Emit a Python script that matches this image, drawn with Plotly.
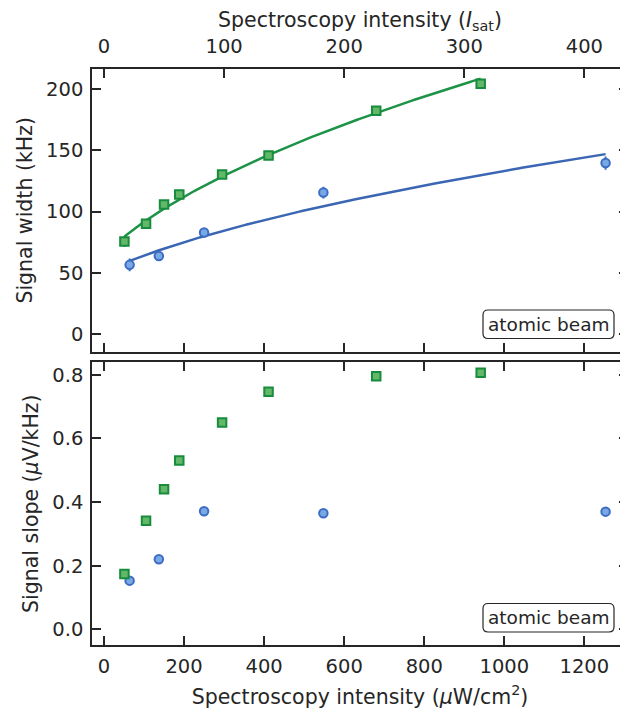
import numpy as np
import plotly.graph_objects as go

# ---------------- data ----------------
ISAT = 3.0  # µW/cm^2 corresponding to 1 I_sat

green_intensity = [51, 105, 150, 188, 295, 411, 680, 941]
green_width = [75.5, 90.0, 105.8, 114.0, 130.4, 145.9, 182.5, 204.6]
green_width_err = [4.4, 2.0, 2.0, 2.0, 2.0, 2.0, 2.0, 2.0]
green_slope = [0.174, 0.341, 0.440, 0.531, 0.650, 0.747, 0.796, 0.807]

blue_intensity = [64, 137, 250, 548, 1253]
blue_width = [56.5, 63.8, 82.9, 115.6, 139.7]
blue_width_err = [5.2, 3.0, 2.5, 4.8, 5.4]
blue_slope = [0.153, 0.220, 0.371, 0.365, 0.370]

# power-broadening fit: width = sqrt(a + b * I)
green_fit = (4230.0, 41.8)
blue_fit = (2593.0, 15.18)

x_ticks = [0, 200, 400, 600, 800, 1000, 1200]
isat_ticks = [0, 100, 200, 300, 400]
width_ticks = [0, 50, 100, 150, 200]
slope_ticks = [0.0, 0.2, 0.4, 0.6, 0.8]
slope_ticklabels = ["0.0", "0.2", "0.4", "0.6", "0.8"]

# ---------------- style ----------------
OFF = 8  # page body margin offset
W, H = 628 - OFF, 709 - OFF
L, R, T, B = 92 - OFF, 0, 69 - OFF, 64
PW, PH = W - L - R, H - T - B
FONT = "DejaVu Sans"
TXT = "#262626"
AX = "#262626"
G_LINE, G_EDGE, G_FILL = "#1c9347", "#178c3c", "#62b868"
B_LINE, B_EDGE, B_FILL = "#3b66b4", "#3c6cc3", "#79a9e4"
TITLE_SIZE = 20.5
MS = 8.5

x_range = [-30, 1309]
w_range = [-14.5, 216.6]
s_range = [-0.0494, 0.8396]
top_dom = [(645 - 351.7) / PH, 1.0]
bot_dom = [0.0, (645 - 362.3) / PH]


def fit_curve(xs, p):
    xx = np.linspace(min(xs), max(xs), 200)
    return xx, np.sqrt(p[0] + p[1] * xx)


fig = go.Figure()

gx, gy = fit_curve(green_intensity, green_fit)
bx, by = fit_curve(blue_intensity, blue_fit)
fig.add_trace(go.Scatter(x=bx, y=by, mode="lines", line=dict(color=B_LINE, width=2.5),
                         xaxis="x", yaxis="y", hoverinfo="skip"))
fig.add_trace(go.Scatter(x=gx, y=gy, mode="lines", line=dict(color=G_LINE, width=2.5),
                         xaxis="x", yaxis="y", hoverinfo="skip"))

# top panel points
fig.add_trace(go.Scatter(
    x=blue_intensity, y=blue_width, mode="markers", xaxis="x", yaxis="y",
    error_y=dict(type="data", array=blue_width_err, color=B_EDGE, thickness=2, width=0),
    marker=dict(symbol="circle", size=MS, color=B_FILL, line=dict(color=B_EDGE, width=2))))
fig.add_trace(go.Scatter(
    x=green_intensity, y=green_width, mode="markers", xaxis="x", yaxis="y",
    error_y=dict(type="data", array=green_width_err, color=G_EDGE, thickness=2, width=0),
    marker=dict(symbol="square", size=MS, color=G_FILL, line=dict(color=G_EDGE, width=2))))

# bottom panel points
fig.add_trace(go.Scatter(
    x=blue_intensity, y=blue_slope, mode="markers", xaxis="x2", yaxis="y2",
    marker=dict(symbol="circle", size=MS, color=B_FILL, line=dict(color=B_EDGE, width=2))))
fig.add_trace(go.Scatter(
    x=green_intensity, y=green_slope, mode="markers", xaxis="x2", yaxis="y2",
    marker=dict(symbol="square", size=MS, color=G_FILL, line=dict(color=G_EDGE, width=2))))

# invisible trace to anchor the top I_sat axis
fig.add_trace(go.Scatter(
    x=[v / ISAT for v in green_intensity], y=green_width, mode="markers",
    xaxis="x3", yaxis="y", marker=dict(opacity=0), hoverinfo="skip"))

axis_common = dict(
    showline=True, linecolor=AX, linewidth=1.5, ticks="inside", ticklen=9,
    tickwidth=1.5, tickcolor=AX, showgrid=False, zeroline=False, automargin=False,
    tickfont=dict(family=FONT, size=19.5, color=TXT),
)
title_font = dict(family=FONT, size=TITLE_SIZE, color=TXT)

fig.update_layout(
    width=W, height=H, margin=dict(l=L, r=R, t=T, b=B),
    paper_bgcolor="white", plot_bgcolor="white", showlegend=False,
    font=dict(family=FONT, color=TXT),
    xaxis=dict(**axis_common, range=x_range, tickvals=x_ticks, showticklabels=False,
               anchor="y", domain=[0, 1]),
    xaxis2=dict(**axis_common, range=x_range, tickvals=x_ticks, anchor="y2",
                mirror="ticks", domain=[0, 1], ticklabelstandoff=3,
                title=dict(text="Spectroscopy intensity (<i>μ</i>W/cm<sup>2</sup>)",
                           font=title_font, standoff=12)),
    xaxis3=dict(**axis_common, range=[v / ISAT for v in x_range], tickvals=isat_ticks,
                overlaying="x", side="top", anchor="y", ticklabelstandoff=6,
                title=dict(text="Spectroscopy intensity (<i>I</i><sub>sat</sub>)",
                           font=title_font, standoff=6)),
    yaxis=dict(**axis_common, range=w_range, tickvals=width_ticks, domain=top_dom,
               anchor="x", mirror="ticks", ticklabelstandoff=3,
               title=dict(text="Signal width (kHz)", font=title_font, standoff=8)),
    yaxis2=dict(**axis_common, range=s_range, tickvals=slope_ticks,
                ticktext=slope_ticklabels, domain=bot_dom, anchor="x2", mirror="ticks",
                ticklabelstandoff=3,
                title=dict(text="Signal slope (<i>μ</i>V/kHz)", font=title_font, standoff=8)),
)


def px2paper(px, py):
    # screen pixel -> paper coords
    return (px - OFF - L) / PW, (H - B - (py - OFF)) / PH


def rounded_box(x0, y0, x1, y1, r):
    def P(px, py):
        a, b = px2paper(px, py)
        return f"{a:.5f},{b:.5f}"
    path = (f"M {P(x0 + r, y0)} L {P(x1 - r, y0)} Q {P(x1, y0)} {P(x1, y0 + r)} "
            f"L {P(x1, y1 - r)} Q {P(x1, y1)} {P(x1 - r, y1)} "
            f"L {P(x0 + r, y1)} Q {P(x0, y1)} {P(x0, y1 - r)} "
            f"L {P(x0, y0 + r)} Q {P(x0, y0)} {P(x0 + r, y0)} Z")
    return path


for (bx0, by0, bx1, by1) in [(483, 310, 614, 338.5), (483, 603.5, 614, 632)]:
    fig.add_shape(type="path", xref="paper", yref="paper",
                  path=rounded_box(bx0, by0, bx1, by1, 5),
                  line=dict(color=TXT, width=1.2), fillcolor="white")
    cx, cy = px2paper((bx0 + bx1) / 2, (by0 + by1) / 2)
    fig.add_annotation(xref="paper", yref="paper", x=cx, y=cy, text="atomic beam",
                       showarrow=False, xanchor="center", yanchor="middle",
                       font=dict(family=FONT, size=18.5, color=TXT))

fig.write_html("out.html")
